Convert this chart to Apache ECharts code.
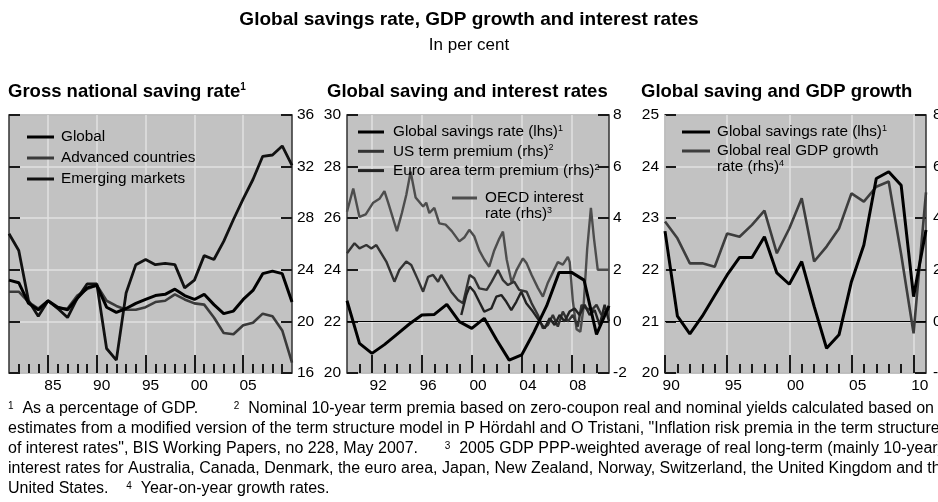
<!DOCTYPE html>
<html>
<head>
<meta charset="utf-8">
<script src="https://cdn.jsdelivr.net/npm/echarts@6/dist/echarts.min.js"></script>
<style>
  html, body { margin: 0; padding: 0; background: #fff; }
  #chart { width: 938px; height: 502px; }
</style>
</head>
<body>
<div id="chart"></div>
<script>
// ---- panel 1: gross national saving rate (annual) ----
const years1 = [1981,1982,1983,1984,1985,1986,1987,1988,1989,1990,1991,1992,1993,1994,1995,1996,1997,1998,1999,2000,2001,2002,2003,2004,2005,2006,2007,2008,2009,2010];
const globalSaving1 = [23.2,23.0,21.4,20.9,21.6,21.1,20.9,21.8,22.6,22.8,21.1,20.7,21.0,21.4,21.7,22.0,22.1,22.5,22.0,21.7,22.1,21.3,20.6,20.8,21.7,22.4,23.7,23.9,23.7,21.5];
const advancedSaving = [22.3,22.3,21.5,21.0,21.6,21.0,21.0,22.0,22.5,22.8,21.6,21.2,20.9,20.9,21.1,21.5,21.6,22.1,21.7,21.4,21.3,20.3,19.1,19.0,19.7,19.9,20.6,20.4,19.3,16.8];
const emergingSaving = [26.8,25.5,21.6,20.4,21.6,21.0,20.3,21.8,22.9,22.9,17.9,17.0,22.2,24.4,24.8,24.4,24.5,24.4,22.6,23.2,25.1,24.8,26.2,27.9,29.5,31.0,32.8,32.9,33.6,32.1];

// ---- panel 2: saving and interest rates ----
const years2 = [1990,1991,1992,1993,1994,1995,1996,1997,1998,1999,2000,2001,2002,2003,2004,2005,2006,2007,2008,2009,2010,2011];
const globalSaving2 = [22.8,21.15,20.76,21.1,21.5,21.9,22.25,22.27,22.66,21.99,21.73,22.12,21.28,20.5,20.7,21.6,22.6,23.9,23.9,23.6,21.5,22.6];
const usTermTime = [1990.0,1990.6,1991.0,1991.55,1991.95,1992.35,1992.75,1993.15,1993.8,1994.2,1994.75,1995.15,1995.7,1996.1,1996.5,1996.9,1997.3,1997.55,1997.95,1998.35,1998.9,1999.3,1999.83,2000.2,2000.6,2001.2,2001.6,2002.1,2002.5,2002.9,2003.4,2003.8,2004.4,2004.8,2005.3,2005.7,2006.1,2006.5,2006.9,2007.3,2007.7,2008.1,2008.5,2008.8,2009.2,2009.6,2010.0,2010.4,2011.0];
const usTermValue = [2.64,3.03,2.83,2.96,2.83,2.96,2.64,2.32,1.54,2.0,2.32,2.19,1.6,1.15,1.73,1.8,1.54,1.8,1.48,1.15,0.83,0.7,1.8,1.67,1.28,1.22,1.54,1.99,1.6,1.41,1.54,1.22,1.15,0.7,0.25,-0.27,-0.14,0.25,-0.2,0.38,0.0,0.25,-0.2,0.64,0.5,0.44,0.64,0.25,0.5];
const euroTermTime = [1999.16,1999.56,1999.83,2000.2,2000.6,2001.0,2001.57,2001.97,2002.37,2002.77,2003.17,2003.57,2003.97,2004.37,2004.9,2005.44,2005.84,2006.24,2006.64,2007.04,2007.44,2007.84,2008.24,2008.64,2009.05,2009.45,2009.85,2010.25,2010.65,2011.0];
const euroTermValue = [0.25,1.02,1.35,1.15,0.76,0.38,0.5,0.96,1.02,0.76,0.44,0.76,1.15,0.7,0.38,0.0,-0.27,0.12,-0.14,0.25,0.0,0.38,0.5,0.25,0.64,0.25,0.44,-0.14,0.64,0.0];
const oecdRateTime = [1990.0,1990.5,1991.0,1991.5,1992.1,1992.6,1993.0,1993.3,1994.0,1994.4,1994.75,1995.1,1995.5,1996.1,1996.35,1996.6,1997.0,1997.4,1997.9,1998.4,1999.0,1999.4,1999.8,2000.2,2000.6,2001.0,2001.4,2001.8,2002.2,2002.5,2002.8,2003.2,2003.6,2004.1,2004.4,2004.8,2005.3,2005.7,2006.1,2006.5,2006.9,2007.3,2007.7,2007.85,2008.1,2008.4,2008.7,2008.95,2009.25,2009.55,2009.8,2010.1,2011.0];
const oecdRateValue = [4.25,5.15,4.05,4.15,4.6,4.75,5.05,4.6,3.5,4.2,4.9,5.8,4.8,4.45,4.6,4.2,4.4,3.8,3.75,3.5,3.1,3.25,3.55,3.3,2.75,2.4,2.12,2.75,3.2,3.48,2.4,1.5,2.0,2.44,2.25,1.8,1.3,0.96,1.5,1.9,2.3,2.2,2.5,2.3,0.8,-0.3,-0.4,0.5,2.8,4.4,3.2,2.0,2.0];

// ---- panel 3: saving and GDP growth ----
const years3 = years2;
const globalSaving3 = [22.75,21.1,20.76,21.1,21.5,21.9,22.24,22.24,22.64,21.94,21.72,22.16,21.29,20.48,20.74,21.77,22.48,23.77,23.9,23.64,21.48,22.77];
const gdpGrowth = [3.87,3.22,2.25,2.25,2.12,3.41,3.28,3.74,4.29,2.64,3.6,4.77,2.32,2.9,3.6,4.96,4.64,5.22,5.42,2.6,-0.46,5.0];

// tick years (major ticks; labels sit mid-year)
const majorYears1 = [1985,1990,1995,2000,2005];
const majorYears2 = [1992,1996,2000,2004,2008];
const majorYears3 = [1990,1995,2000,2005,2010];

const footnotes = [
  '{s|1}  As a percentage of GDP.        {s|2}  Nominal 10-year term premia based on zero-coupon real and nominal yields calculated based on',
  'estimates from a modified version of the term structure model in P Hördahl and O Tristani, "Inflation risk premia in the term structure',
  'of interest rates", BIS Working Papers, no 228, May 2007.      {s|3}  2005 GDP PPP-weighted average of real long-term (mainly 10-year)',
  'interest rates for Australia, Canada, Denmark, the euro area, Japan, New Zealand, Norway, Switzerland, the United Kingdom and the',
  'United States.    {s|4}  Year-on-year growth rates.'
];

const zip = (xs, ys) => xs.map((x, i) => [x, ys[i]]);
const range = (a, b) => { const r = []; for (let v = a; v <= b; v++) r.push(v); return r; };

const FONT = '"Liberation Sans", Arial, sans-serif';
const PLOT_BG = '#c2c2c2';
const GRIDLINE = '#e0e0e0';
const TICK = '#1a1a1a';
const sup = { fontSize: 9, verticalAlign: 'top', lineHeight: 10 };

// value axis carrying the data and the mid-year labels
function labelX(grid, min, max, majors) {
  return {
    type: 'value', gridIndex: grid, min: min, max: max, position: 'bottom',
    axisLine: { show: false },
    axisTick: { show: false },
    axisLabel: {
      customValues: majors.map(y => y + 0.5), margin: 5, fontSize: 15.5, color: '#000',
      formatter: v => String(Math.floor(v)).slice(2)
    },
    splitLine: { show: false }
  };
}
// category overlay: one slot per year boundary, long ticks on major years, short on the rest
function tickX(grid, min, max, majors, major) {
  return {
    type: 'category', gridIndex: grid, position: 'bottom', boundaryGap: false, z: 3,
    data: range(min, max).map(String),
    axisLine: { show: false },
    axisTick: {
      show: true, inside: true, length: major ? 18 : 9,
      interval: (i, v) => major ? majors.indexOf(+v) >= 0 : (+v > min && +v < max),
      lineStyle: { color: TICK, width: 2 }
    },
    axisLabel: { show: false },
    splitLine: { show: false }
  };
}
function yAx(grid, pos, min, max, interval, labels, split, margin) {
  return {
    type: 'value', gridIndex: grid, position: pos, min: min, max: max, interval: interval,
    axisLine: { show: false },
    axisTick: { show: true, inside: true, length: 11, lineStyle: { color: TICK, width: 2 } },
    axisLabel: { show: labels, margin: margin, fontSize: 15.5, color: '#000' },
    splitLine: { show: split, lineStyle: { color: GRIDLINE, width: 1.5 } }
  };
}
function line(name, xi, yi, data, color, width) {
  return {
    name: name, type: 'line', xAxisIndex: xi, yAxisIndex: yi, data: data,
    symbol: 'none', smooth: false, color: color,
    lineStyle: { color: color, width: width }
  };
}
// vertical gridlines at the major years, plus an optional zero line
function gridMarks(majors, withZero) {
  const data = majors.map(y => ({ xAxis: y, lineStyle: { color: GRIDLINE, width: 1.5, type: 'solid' } }));
  if (withZero) data.push({ yAxis: 0, lineStyle: { color: '#000', width: 1.2, type: 'solid' } });
  return { silent: true, symbol: 'none', z: 1, label: { show: false }, data: data };
}
function legendBox(names, left, top, itemWidth, gap, textPad, formatter) {
  return {
    data: names, left: left, top: top, orient: 'vertical', padding: 0,
    icon: 'rect', itemWidth: itemWidth, itemHeight: 3, itemGap: gap,
    selectedMode: false, formatter: formatter,
    textStyle: { fontSize: 15.3, lineHeight: 16, color: '#000', padding: textPad, rich: { s: sup } }
  };
}
function panel(left, width) {
  return {
    left: left, top: 115, width: width, height: 258, show: true,
    backgroundColor: PLOT_BG, borderColor: '#333', borderWidth: 1.5,
    containLabel: false, outerBoundsMode: 'none'
  };
}

const chart = echarts.init(document.getElementById('chart'));

const option = {
  animation: false,
  textStyle: { fontFamily: FONT },
  title: [
    { text: 'Global savings rate, GDP growth and interest rates', left: 'center', top: 10, padding: 0,
      textStyle: { fontSize: 19, fontWeight: 'bold', color: '#000' } },
    { text: 'In per cent', left: 'center', top: 37, padding: 0,
      textStyle: { fontSize: 17, fontWeight: 'normal', color: '#000' } },
    { text: 'Gross national saving rate{s|1}', left: 8, top: 82, padding: 0,
      textStyle: { fontSize: 18.5, fontWeight: 'bold', color: '#000', rich: { s: { fontSize: 10, fontWeight: 'bold', verticalAlign: 'top', lineHeight: 11 } } } },
    { text: 'Global saving and interest rates', left: 327, top: 82, padding: 0,
      textStyle: { fontSize: 18.5, fontWeight: 'bold', color: '#000' } },
    { text: 'Global saving and GDP growth', left: 641, top: 82, padding: 0,
      textStyle: { fontSize: 18.5, fontWeight: 'bold', color: '#000' } }
  ],
  grid: [panel(9, 283), panel(347, 262), panel(665, 261)],
  xAxis: [
    labelX(0, 1981, 2010, majorYears1), tickX(0, 1981, 2010, majorYears1, false), tickX(0, 1981, 2010, majorYears1, true),
    labelX(1, 1990, 2011, majorYears2), tickX(1, 1990, 2011, majorYears2, false), tickX(1, 1990, 2011, majorYears2, true),
    labelX(2, 1990, 2011, majorYears3), tickX(2, 1990, 2011, majorYears3, false), tickX(2, 1990, 2011, majorYears3, true)
  ],
  yAxis: [
    yAx(0, 'right', 16, 36, 4, true, true, 5), yAx(0, 'left', 16, 36, 4, false, false, 5),
    yAx(1, 'left', 20, 30, 2, true, true, 6), yAx(1, 'right', -2, 8, 2, true, false, 4),
    yAx(2, 'left', 20, 25, 1, true, true, 6), yAx(2, 'right', -2, 8, 2, true, false, 7)
  ],
  legend: [
    legendBox(['Global', 'Advanced countries', 'Emerging markets'], 27, 129, 27, 5, [0, 0, 0, 2]),
    legendBox(['Global savings rate (lhs)', 'US term premium (rhs)', 'Euro area term premium (rhs)'], 358, 124, 26, 3.3, [0, 0, 0, 4],
      n => n + (n.indexOf('Global') === 0 ? '{s|1}' : '{s|2}')),
    legendBox(['OECD interest rate (rhs)'], 452, 174, 25, 0, [16, 0, 0, 3],
      () => 'OECD interest\nrate (rhs){s|3}'),
    legendBox(['Global savings rate (lhs)'], 682, 124, 28, 0, [0, 0, 0, 2],
      n => n + '{s|1}'),
    legendBox(['Global real GDP growth rate (rhs)'], 682, 127, 28, 0, [16, 0, 0, 2],
      () => 'Global real GDP growth\nrate (rhs){s|4}')
  ],
  graphic: footnotes.map((t, i) => ({
    type: 'text', left: 8, top: 401 + i * 20, silent: true,
    style: { text: t, fontSize: 16, fontFamily: FONT, fill: '#000', rich: { s: { fontSize: 10, verticalAlign: 'top', lineHeight: 10 } } }
  })),
  series: [
    Object.assign(line('Advanced countries', 0, 0, zip(years1, advancedSaving), '#3a3a3a', 2.6), { markLine: gridMarks(majorYears1, false) }),
    line('Emerging markets', 0, 0, zip(years1, emergingSaving), '#111', 2.8),
    line('Global', 0, 0, zip(years1, globalSaving1), '#000', 3),

    Object.assign(line('OECD interest rate (rhs)', 3, 3, zip(oecdRateTime, oecdRateValue), '#4d4d4d', 2.4), { markLine: gridMarks(majorYears2, true) }),
    line('US term premium (rhs)', 3, 3, zip(usTermTime, usTermValue), '#333', 2.4),
    line('Euro area term premium (rhs)', 3, 3, zip(euroTermTime, euroTermValue), '#222', 2.4),
    line('Global savings rate (lhs)', 3, 2, zip(years2, globalSaving2), '#000', 3),

    Object.assign(line('Global real GDP growth rate (rhs)', 6, 5, zip(years3, gdpGrowth), '#3d3d3d', 2.6), { markLine: gridMarks(majorYears3, true) }),
    line('Global savings rate (lhs)', 6, 4, zip(years3, globalSaving3), '#000', 3)
  ]
};

chart.setOption(option);
</script>
</body>
</html>
